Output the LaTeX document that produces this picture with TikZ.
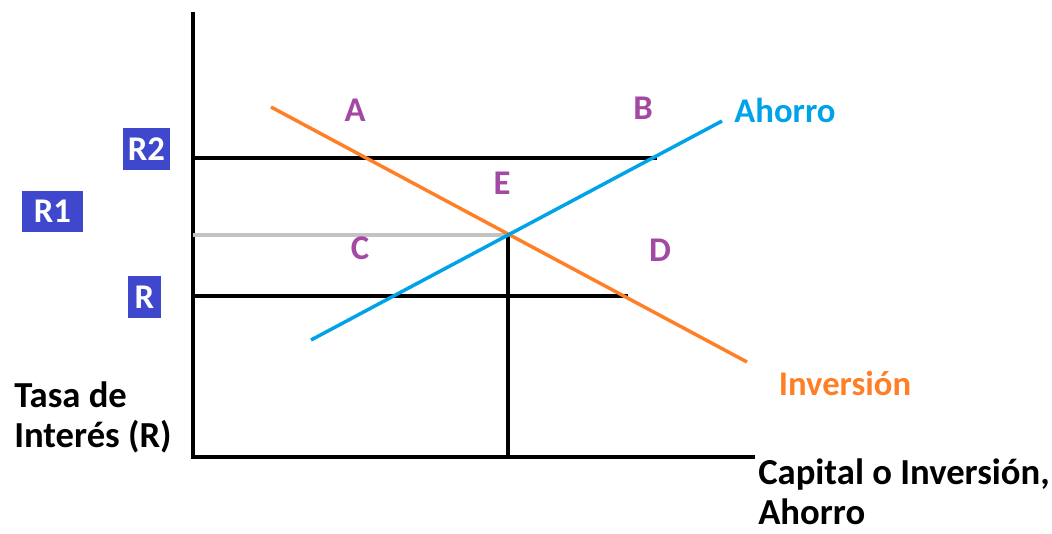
\documentclass[tikz,border=0pt]{standalone}
\usepackage{fontspec}
\setmainfont{Carlito}
\usepackage{xcolor}
\usetikzlibrary{positioning}
\definecolor{invorange}{HTML}{FF7F27}
\definecolor{ahoblue}{HTML}{00A2E8}
\definecolor{zonepurple}{HTML}{A349A4}
\definecolor{rblue}{HTML}{3F48CC}
\definecolor{eqgray}{HTML}{C3C3C3}

\begin{document}
\begin{tikzpicture}[x=0.75pt, y=-0.75pt,
  lbl/.style={font=\fontsize{26}{31}\selectfont\bfseries},
  title/.style={font=\fontsize{27.5}{30}\selectfont\bfseries, anchor=west, align=left, inner sep=0pt},
  zone/.style={lbl, text=zonepurple},
  rbox/.style={lbl, fill=rblue, text=white, inner sep=0pt, minimum height=31pt},
  ax/.style={line width=2.5pt},
  curve/.style={line width=2.6pt},
]
  \useasboundingbox (0,0) rectangle (1052,533);

  % axes
  \coordinate (O) at (193,457);
  \coordinate (ytop) at (193,12);
  \coordinate (xend) at (755,457);
  \draw[ax] (ytop) -- (O) -- (xend);

  % equilibrium and rate levels
  \coordinate (E) at (508,235);
  \coordinate (r2l) at (193,158);
  \coordinate (r2r) at (657,158);
  \coordinate (r1l) at (193,235);
  \coordinate (rl) at (193,296);
  \coordinate (rr) at (628,296);
  \coordinate (Ex) at (508,457);
  \draw[ax] (r2l) -- (r2r);
  \draw[ax] (rl) -- (rr);
  \draw[ax, eqgray] (r1l) -- (E);
  \draw[ax] (E) -- (Ex);

  % curves
  \coordinate (inv1) at (271,107);
  \coordinate (inv2) at (747,362);
  \coordinate (aho1) at (311,340);
  \coordinate (aho2) at (722,121);
  \draw[curve, invorange] (inv1) -- (inv2);
  \draw[curve, ahoblue] (aho1) -- (aho2);

  % zones
  \node[zone] (zA) at (355,110) {A};
  \node[zone] (zB) at (643,108) {B};
  \node[zone] (zE) at (502,183) {E};
  \node[zone] (zC) at (360,248) {C};
  \node[zone] (zD) at (660,250) {D};

  \node[lbl, text=ahoblue] (ahorro) at (785,110) {Ahorro};
  \node[lbl, text=invorange] (inversion) at (845,383) {Inversión};

  % rate boxes
  \node[rbox, minimum width=35pt] (R2) at (146.5,149) {R2};
  \node[rbox, minimum width=46pt] (R1) at (52.5,211.5) {R1};
  \node[rbox, minimum width=25pt] (R) at (144.5,297) {R};

  % axis titles
  \node[title] (ytitle) at (14,417) {Tasa de\\Interés (R)};
  \node[title] (xtitle) at (758,492) {Capital o Inversión,\\Ahorro};
\end{tikzpicture}
\end{document}
